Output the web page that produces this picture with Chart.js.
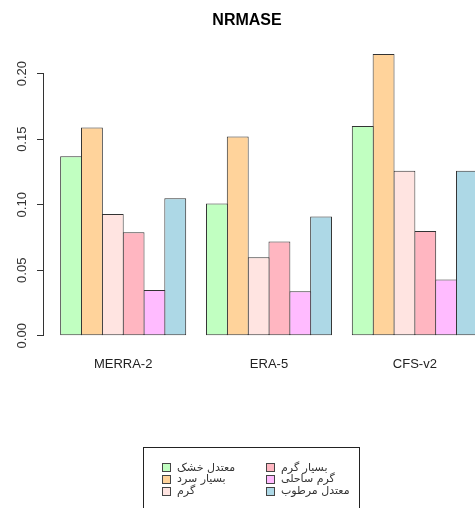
<!DOCTYPE html>
<html>
<head>
<meta charset="utf-8">
<script src="https://cdn.jsdelivr.net/npm/chart.js@4/dist/chart.umd.min.js"></script>
<style>
  html, body { margin: 0; padding: 0; background: #fff; overflow: hidden; }
  #wrap { position: relative; width: 538px; height: 508px; }
  #chart { position: absolute; left: 0; top: 0; }
  #legend {
    position: absolute; left: 143px; top: 447px; width: 217px; height: 90px;
    border: 1px solid #222; overflow: hidden; box-sizing: border-box;
    font-family: "DejaVu Sans", "Liberation Sans", sans-serif; font-size: 11px; color: #333;
  }
  .sw { position: absolute; width: 7px; height: 7px; border: 1px solid #444; }
  .lt { position: absolute; white-space: nowrap; line-height: 12px; }
</style>
</head>
<body>
<div id="wrap">
  <canvas id="chart" width="538" height="508"></canvas>
  <div id="legend"></div>
</div>
<script>
// Reanalysis products compared
const models = ['MERRA-2', 'ERA-5', 'CFS-v2'];

// Climate classes (one bar per class in each group)
const climates = ['معتدل خشک', 'بسیار سرد', 'گرم', 'بسیار گرم', 'گرم ساحلی', 'معتدل مرطوب'];
const climateColors = ['#C1FFC1', '#FFD39B', '#FFE4E1', '#FFB6C1', '#FFBBFF', '#ADD8E6'];

// NRMASE per climate class, in the order of `models`
const dryTemperate   = [0.137, 0.101, 0.160];
const veryCold       = [0.159, 0.152, 0.215];
const warm           = [0.093, 0.060, 0.126];
const veryWarm       = [0.079, 0.072, 0.080];
const coastalWarm    = [0.035, 0.034, 0.043];
const humidTemperate = [0.105, 0.091, 0.126];

const yTicks = [0, 0.05, 0.10, 0.15, 0.20];

const series = [dryTemperate, veryCold, warm, veryWarm, coastalWarm, humidTemperate];

// barplot-style ranges: bars of 6 units with 1 unit gap, axes extended by 4%
const barsPerGroup = climates.length;
const unitsPerGroup = barsPerGroup + 1;
const spanUnits = models.length * unitsPerGroup - 1;
const halfGroup = (barsPerGroup / 2 + 0.04 * spanUnits) / unitsPerGroup;
const xMin = 1 - halfGroup;
const xMax = models.length + halfGroup;

const allValues = series.flat();
const yTop = Math.max(...allValues);
const yMin = -0.04 * yTop;
const yMax = yTop * 1.04;

// neighbouring bars overlap by about one border width so they share an outline
const datasets = series.map((vals, k) => ({
  label: climates[k],
  data: vals.map((v, i) => ({ x: i + 1, y: v })),
  backgroundColor: climateColors[k],
  borderColor: '#333',
  borderWidth: 1,
  borderSkipped: false,
  categoryPercentage: barsPerGroup / unitsPerGroup,
  barPercentage: 1.05
}));

// y axis line spanning only the labelled range
const axisLine = {
  id: 'axisLine',
  afterDraw(chart) {
    const y = chart.scales.y;
    const ctx = chart.ctx;
    const x = Math.round(y.right) - 0.5;
    ctx.save();
    ctx.strokeStyle = '#333';
    ctx.lineWidth = 1;
    ctx.beginPath();
    ctx.moveTo(x, y.getPixelForValue(yTicks[0]));
    ctx.lineTo(x, y.getPixelForValue(yTicks[yTicks.length - 1]));
    ctx.stroke();
    ctx.restore();
  }
};

const chart = new Chart(document.getElementById('chart'), {
  type: 'bar',
  data: { datasets },
  plugins: [axisLine],
  options: {
    responsive: false,
    animation: false,
    devicePixelRatio: 1,
    layout: { padding: { left: 0, right: 44, top: 0, bottom: 0 } },
    plugins: {
      legend: { display: false },
      tooltip: { enabled: false },
      title: {
        display: true,
        text: 'NRMASE',
        color: '#000',
        font: { family: 'Liberation Sans, Arial, sans-serif', size: 16, weight: 'bold' },
        padding: { top: 11, bottom: 12.6 }
      }
    },
    scales: {
      x: {
        type: 'linear',
        min: xMin,
        max: xMax,
        offset: false,
        grid: { display: false },
        border: { display: false },
        afterBuildTicks(scale) { scale.ticks = models.map((_, i) => ({ value: i + 1 })); },
        afterFit(scale) { scale.height = 161; },
        ticks: {
          padding: 2,
          color: '#222',
          font: { family: 'Liberation Sans, Arial, sans-serif', size: 13 },
          callback: (v) => models[Math.round(v) - 1] || ''
        }
      },
      y: {
        type: 'linear',
        min: yMin,
        max: yMax,
        border: { display: false },
        grid: { drawOnChartArea: false, drawTicks: true, tickLength: 7, color: '#333', lineWidth: 1 },
        afterBuildTicks(scale) { scale.ticks = yTicks.map(v => ({ value: v })); },
        afterFit(scale) { scale.width = 44; },
        ticks: {
          minRotation: 90,
          maxRotation: 90,
          crossAlign: 'center',
          padding: 2,
          color: '#333',
          font: { family: 'Liberation Sans, Arial, sans-serif', size: 13 },
          callback: (v) => Number(v).toFixed(2)
        }
      }
    }
  }
});

// Two-column legend, filled column by column
const legendEl = document.getElementById('legend');
const rows = 3;
const colX = [18, 122];
const textOffset = 15;
const rowY = [19.5, 31.3, 43.3];
chart.data.datasets.forEach((ds, k) => {
  const col = Math.floor(k / rows);
  const row = k % rows;
  const sw = document.createElement('div');
  sw.className = 'sw';
  sw.style.left = colX[col] + 'px';
  sw.style.top = (rowY[row] - 4.5) + 'px';
  sw.style.background = ds.backgroundColor;
  legendEl.appendChild(sw);
  const t = document.createElement('span');
  t.className = 'lt';
  t.dir = 'rtl';
  t.textContent = ds.label;
  t.style.left = (colX[col] + textOffset) + 'px';
  t.style.top = (rowY[row] - 6) + 'px';
  legendEl.appendChild(t);
});
</script>
</body>
</html>
